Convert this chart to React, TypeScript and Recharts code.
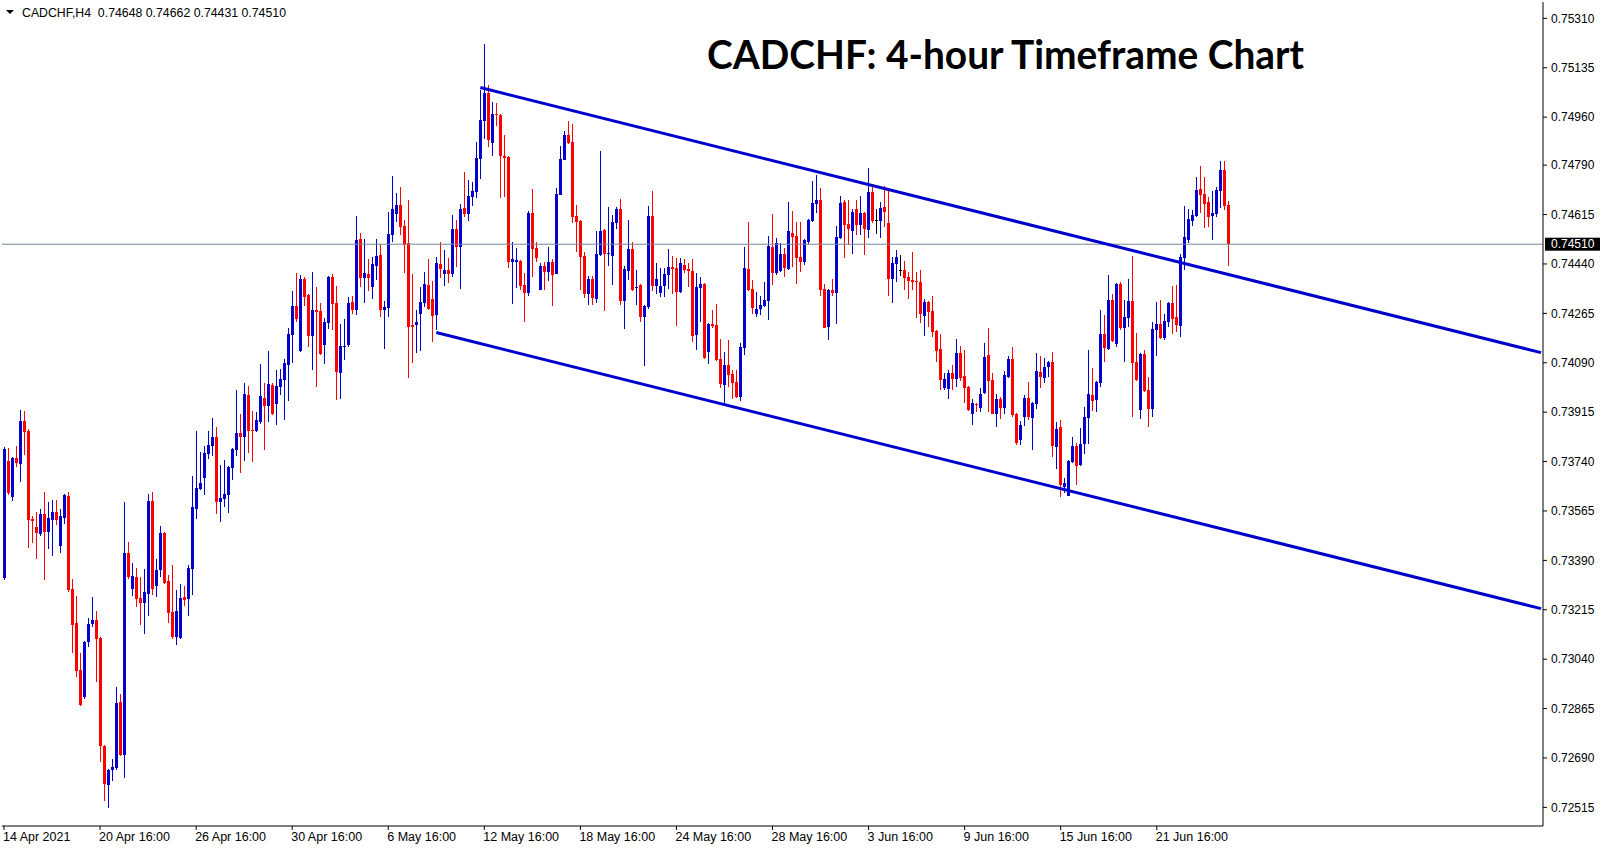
import React from 'react';
import { ComposedChart, Bar, Line, XAxis, YAxis, ReferenceLine } from 'recharts';

const opens = [
0.73329,0.73742,0.73616,0.73754,0.73733,0.73884,0.73850,0.73538,0.73508,0.73484,
0.73554,0.73492,0.73533,0.73561,0.73442,0.73541,0.73618,0.73289,0.73168,0.73002,
0.72907,0.73102,0.73165,0.73179,0.73116,0.72734,0.72596,0.72645,0.72656,0.72888,
0.72702,0.73416,0.73289,0.73331,0.73256,0.73240,0.73272,0.73600,0.73301,0.73356,
0.73487,0.73317,0.73208,0.73119,0.73116,0.73260,0.73254,0.73361,0.73573,0.73643,
0.73683,0.73768,0.73796,0.73827,0.73598,0.73609,0.73623,0.73718,0.73782,0.73841,
0.73828,0.73976,0.73852,0.73848,0.73880,0.73965,0.73936,0.74011,0.73943,0.74004,
0.74028,0.74081,0.74188,0.74290,0.74131,0.74386,0.74329,0.74184,0.74276,0.74273,
0.74152,0.74230,0.74393,0.74301,0.74053,0.74145,0.74152,0.74305,0.74276,0.74528,
0.74390,0.74404,0.74358,0.74432,0.74471,0.74276,0.74283,0.74542,0.74616,0.74648,
0.74574,0.74514,0.74223,0.74223,0.74262,0.74303,0.74366,0.74316,0.74261,0.74440,
0.74406,0.74419,0.74406,0.74564,0.74502,0.74639,0.74618,0.74679,0.74696,0.74813,
0.74948,0.75046,0.74870,0.74971,0.74968,0.74824,0.74819,0.74448,0.74446,0.74451,
0.74366,0.74337,0.74621,0.74496,0.74349,0.74433,0.74413,0.74447,0.74406,0.74686,
0.74810,0.74897,0.74872,0.74611,0.74592,0.74468,0.74332,0.74385,0.74317,0.74472,
0.74561,0.74476,0.74470,0.74587,0.74635,0.74309,0.74415,0.74493,0.74355,0.74366,
0.74252,0.74288,0.74610,0.74362,0.74337,0.74362,0.74401,0.74429,0.74426,0.74341,
0.74437,0.74422,0.74415,0.74189,0.74355,0.74369,0.74128,0.74228,0.74224,0.74104,
0.74011,0.74082,0.74050,0.74022,0.73969,0.74143,0.74422,0.74352,0.74263,0.74281,
0.74291,0.74309,0.74500,0.74408,0.74415,0.74476,0.74422,0.74550,0.74539,0.74465,
0.74447,0.74518,0.74592,0.74653,0.74667,0.74351,0.74217,0.74348,0.74338,0.74531,
0.74659,0.74581,0.74557,0.74634,0.74579,0.74620,0.74561,0.74694,0.74594,0.74593,
0.74641,0.74584,0.74386,0.74440,0.74418,0.74418,0.74393,0.74383,0.74379,0.74375,
0.74256,0.74306,0.74274,0.74203,0.74138,0.74001,0.73995,0.74053,0.74033,0.74124,
0.74042,0.74005,0.73907,0.73943,0.73930,0.73982,0.74117,0.74028,0.73909,0.73963,
0.73930,0.74041,0.74103,0.73908,0.73816,0.73898,0.73966,0.73895,0.73945,0.74056,
0.74037,0.74075,0.74094,0.73792,0.73864,0.73651,0.73619,0.73738,0.73795,0.73728,
0.73801,0.73892,0.73975,0.73958,0.74018,0.74193,0.74139,0.74312,0.74156,0.74369,
0.74213,0.74250,0.74309,0.74094,0.73923,0.74122,0.73993,0.73927,0.74204,0.74227,
0.74178,0.74233,0.74302,0.74252,0.74221,0.74461,0.74526,0.74593,0.74611,0.74705,
0.74688,0.74659,0.74611,0.74618,0.74698,0.74773,0.74648,
];

const highs = [
0.73793,0.73787,0.73757,0.73795,0.73923,0.73919,0.73855,0.73547,0.73561,0.73572,
0.73632,0.73597,0.73604,0.73604,0.73572,0.73625,0.73632,0.73324,0.73264,0.73062,
0.73106,0.73186,0.73260,0.73211,0.73120,0.72737,0.72652,0.72687,0.72942,0.72917,
0.73597,0.73455,0.73381,0.73363,0.73331,0.73360,0.73625,0.73632,0.73395,0.73512,
0.73491,0.73338,0.73374,0.73285,0.73306,0.73299,0.73374,0.73689,0.73848,0.73774,
0.73795,0.73848,0.73894,0.73863,0.73728,0.73746,0.73724,0.73788,0.73994,0.73909,
0.74018,0.74008,0.73919,0.73916,0.74085,0.74018,0.74131,0.74018,0.74064,0.74067,
0.74103,0.74213,0.74344,0.74407,0.74400,0.74393,0.74332,0.74411,0.74358,0.74301,
0.74248,0.74396,0.74404,0.74361,0.74227,0.74244,0.74322,0.74326,0.74609,0.74549,
0.74528,0.74457,0.74464,0.74528,0.74510,0.74308,0.74623,0.74751,0.74691,0.74712,
0.74595,0.74666,0.74404,0.74276,0.74358,0.74412,0.74458,0.74380,0.74464,0.74518,
0.74490,0.74461,0.74614,0.74596,0.74651,0.74766,0.74738,0.74731,0.74872,0.75056,
0.75219,0.75074,0.75014,0.75010,0.74971,0.74897,0.74822,0.74518,0.74497,0.74454,
0.74408,0.74628,0.74706,0.74518,0.74443,0.74447,0.74500,0.74458,0.74709,0.74858,
0.74911,0.74947,0.74936,0.74650,0.74595,0.74483,0.74399,0.74399,0.74557,0.74840,
0.74564,0.74642,0.74614,0.74642,0.74670,0.74433,0.74596,0.74518,0.74419,0.74369,
0.74294,0.74646,0.74699,0.74444,0.74426,0.74426,0.74493,0.74468,0.74461,0.74461,
0.74458,0.74444,0.74458,0.74408,0.74394,0.74372,0.74231,0.74277,0.74298,0.74174,
0.74128,0.74171,0.74065,0.74065,0.74160,0.74500,0.74589,0.74383,0.74341,0.74327,
0.74376,0.74539,0.74617,0.74532,0.74514,0.74497,0.74660,0.74628,0.74589,0.74589,
0.74528,0.74599,0.74734,0.74755,0.74709,0.74368,0.74351,0.74386,0.74574,0.74680,
0.74666,0.74666,0.74634,0.74666,0.74680,0.74623,0.74779,0.74723,0.74634,0.74659,
0.74715,0.74705,0.74464,0.74489,0.74471,0.74450,0.74411,0.74482,0.74411,0.74418,
0.74316,0.74309,0.74327,0.74206,0.74192,0.74052,0.74064,0.74081,0.74175,0.74150,
0.74136,0.74008,0.73962,0.73948,0.74001,0.74161,0.74214,0.74052,0.73979,0.73969,
0.74061,0.74115,0.74146,0.73911,0.73883,0.73975,0.74021,0.73950,0.74126,0.74114,
0.74106,0.74097,0.74129,0.73881,0.73887,0.73683,0.73745,0.73827,0.73805,0.73859,
0.73934,0.74135,0.74071,0.74025,0.74277,0.74259,0.74401,0.74334,0.74371,0.74376,
0.74312,0.74385,0.74468,0.74197,0.74125,0.74135,0.74041,0.74234,0.74304,0.74312,
0.74264,0.74306,0.74363,0.74367,0.74475,0.74645,0.74633,0.74632,0.74748,0.74788,
0.74748,0.74678,0.74700,0.74713,0.74803,0.74803,0.74662,
];

const lows = [
0.73321,0.73622,0.73602,0.73722,0.73669,0.73763,0.73435,0.73453,0.73396,0.73478,
0.73322,0.73432,0.73407,0.73517,0.73417,0.73520,0.73278,0.73063,0.72978,0.72875,
0.72900,0.73084,0.73152,0.72960,0.72677,0.72538,0.72513,0.72610,0.72648,0.72698,
0.72620,0.73325,0.73264,0.73226,0.73161,0.73129,0.73193,0.73267,0.73260,0.73331,
0.73306,0.73169,0.73112,0.73090,0.73112,0.73228,0.73193,0.73267,0.73537,0.73639,
0.73622,0.73749,0.73760,0.73556,0.73527,0.73580,0.73559,0.73676,0.73760,0.73701,
0.73740,0.73772,0.73739,0.73845,0.73872,0.73782,0.73880,0.73905,0.73869,0.73975,
0.73887,0.73954,0.74089,0.74234,0.74128,0.74290,0.74145,0.74064,0.74004,0.74117,
0.74085,0.74209,0.74205,0.73957,0.73961,0.74099,0.74146,0.74262,0.74259,0.74358,
0.74301,0.74344,0.74315,0.74383,0.74251,0.74138,0.74251,0.74517,0.74588,0.74542,
0.74407,0.74035,0.74089,0.74124,0.74131,0.74289,0.74278,0.74165,0.74206,0.74391,
0.74362,0.74374,0.74395,0.74430,0.74349,0.74607,0.74594,0.74647,0.74672,0.74742,
0.74884,0.74856,0.74824,0.74930,0.74672,0.74679,0.74424,0.74300,0.74356,0.74349,
0.74236,0.74328,0.74395,0.74448,0.74346,0.74347,0.74378,0.74293,0.74403,0.74683,
0.74807,0.74867,0.74587,0.74484,0.74346,0.74321,0.74296,0.74296,0.74303,0.74469,
0.74275,0.74434,0.74367,0.74565,0.74295,0.74210,0.74383,0.74345,0.74295,0.74235,
0.74079,0.74281,0.74344,0.74334,0.74323,0.74323,0.74352,0.74334,0.74220,0.74337,
0.74408,0.74359,0.74164,0.74135,0.74235,0.74104,0.74086,0.74213,0.74097,0.74001,
0.73944,0.74004,0.73962,0.73966,0.73955,0.74118,0.74345,0.74263,0.74252,0.74259,
0.74288,0.74242,0.74366,0.74401,0.74412,0.74394,0.74419,0.74429,0.74369,0.74412,
0.74437,0.74511,0.74589,0.74621,0.74327,0.74211,0.74171,0.74327,0.74228,0.74528,
0.74462,0.74508,0.74476,0.74543,0.74543,0.74469,0.74532,0.74586,0.74547,0.74532,
0.74571,0.74327,0.74302,0.74377,0.74397,0.74348,0.74316,0.74348,0.74249,0.74231,
0.74185,0.74217,0.74182,0.74093,0.73994,0.73991,0.73963,0.73991,0.74005,0.74026,
0.73949,0.73921,0.73870,0.73916,0.73916,0.73979,0.73917,0.73906,0.73863,0.73891,
0.73910,0.74038,0.73898,0.73797,0.73798,0.73864,0.73887,0.73779,0.73927,0.74002,
0.74019,0.74041,0.73757,0.73715,0.73616,0.73631,0.73616,0.73735,0.73657,0.73725,
0.73769,0.73802,0.73920,0.73914,0.74005,0.74093,0.74136,0.74164,0.74143,0.74207,
0.74093,0.74214,0.73899,0.74027,0.73892,0.73987,0.73864,0.73899,0.74114,0.74175,
0.74171,0.74218,0.74194,0.74200,0.74182,0.74420,0.74511,0.74574,0.74608,0.74622,
0.74568,0.74572,0.74526,0.74607,0.74635,0.74631,0.74431,
];

const closes = [
0.73785,0.73628,0.73754,0.73736,0.73884,0.73846,0.73533,0.73531,0.73485,0.73554,
0.73492,0.73540,0.73561,0.73533,0.73547,0.73622,0.73285,0.73161,0.72999,0.72879,
0.73102,0.73165,0.73179,0.73113,0.72734,0.72599,0.72648,0.72657,0.72886,0.72702,
0.73416,0.73331,0.73335,0.73254,0.73240,0.73278,0.73600,0.73290,0.73356,0.73487,
0.73311,0.73205,0.73119,0.73211,0.73257,0.73251,0.73363,0.73579,0.73646,0.73664,
0.73770,0.73799,0.73827,0.73598,0.73611,0.73625,0.73721,0.73785,0.73841,0.73828,
0.73979,0.73850,0.73850,0.73887,0.73972,0.73936,0.74014,0.73908,0.74007,0.74032,
0.74089,0.74191,0.74290,0.74244,0.74386,0.74322,0.74184,0.74276,0.74269,0.74120,
0.74234,0.74393,0.74298,0.74057,0.74149,0.74149,0.74301,0.74276,0.74524,0.74390,
0.74407,0.74390,0.74439,0.74468,0.74276,0.74287,0.74545,0.74634,0.74648,0.74570,
0.74506,0.74216,0.74216,0.74234,0.74305,0.74369,0.74281,0.74257,0.74444,0.74424,
0.74419,0.74406,0.74564,0.74502,0.74635,0.74618,0.74681,0.74699,0.74816,0.74950,
0.75046,0.74879,0.74971,0.74966,0.74824,0.74817,0.74448,0.74458,0.74454,0.74363,
0.74337,0.74621,0.74494,0.74461,0.74433,0.74413,0.74447,0.74402,0.74689,0.74812,
0.74897,0.74870,0.74608,0.74590,0.74466,0.74332,0.74385,0.74317,0.74476,0.74557,
0.74476,0.74479,0.74589,0.74635,0.74309,0.74422,0.74493,0.74348,0.74359,0.74252,
0.74291,0.74610,0.74362,0.74387,0.74362,0.74405,0.74429,0.74422,0.74341,0.74444,
0.74419,0.74415,0.74185,0.74359,0.74369,0.74107,0.74228,0.74220,0.74100,0.74015,
0.74082,0.74047,0.74019,0.73969,0.74146,0.74426,0.74348,0.74284,0.74281,0.74295,
0.74313,0.74504,0.74408,0.74514,0.74476,0.74426,0.74557,0.74536,0.74461,0.74447,
0.74525,0.74596,0.74656,0.74667,0.74348,0.74214,0.74348,0.74338,0.74535,0.74655,
0.74579,0.74564,0.74623,0.74579,0.74620,0.74564,0.74694,0.74593,0.74594,0.74638,
0.74625,0.74386,0.74443,0.74464,0.74418,0.74391,0.74380,0.74377,0.74377,0.74263,
0.74306,0.74270,0.74200,0.74132,0.74029,0.74034,0.74053,0.74033,0.74124,0.74035,
0.74001,0.73923,0.73946,0.73939,0.73980,0.74110,0.74026,0.73909,0.73963,0.73930,
0.74046,0.74103,0.73906,0.73804,0.73868,0.73966,0.73899,0.73947,0.74061,0.74037,
0.74075,0.74094,0.73795,0.73857,0.73657,0.73664,0.73742,0.73795,0.73725,0.73801,
0.73898,0.73978,0.73955,0.74022,0.74193,0.74143,0.74312,0.74167,0.74369,0.74213,
0.74252,0.74309,0.74090,0.74030,0.74122,0.73990,0.73927,0.74210,0.74227,0.74178,
0.74238,0.74302,0.74245,0.74224,0.74466,0.74537,0.74599,0.74613,0.74702,0.74684,
0.74653,0.74607,0.74620,0.74702,0.74773,0.74645,0.74510,
];

// total bar slots visible on the chart (candles + empty right shift)
const slotCount = 385;

const xTickIndex = [0, 24, 48, 72, 96, 120, 144, 168, 192, 216, 240, 264, 288];
const xTickLabels = [
  '14 Apr 2021', '20 Apr 16:00', '26 Apr 16:00', '30 Apr 16:00', '6 May 16:00',
  '12 May 16:00', '18 May 16:00', '24 May 16:00', '28 May 16:00', '3 Jun 16:00',
  '9 Jun 16:00', '15 Jun 16:00', '21 Jun 16:00',
];

const yTicks = [
  0.75310, 0.75135, 0.74960, 0.74790, 0.74615, 0.74440, 0.74265, 0.74090, 0.73915,
  0.73740, 0.73565, 0.73390, 0.73215, 0.73040, 0.72865, 0.72690, 0.72515,
];
const yDomain = [0.72449, 0.75368];

const upperIdx = [119, 384];
const upperPrice = [0.75065, 0.74126];
const lowerIdx = [108, 384];
const lowerPrice = [0.74197, 0.73219];

const lastPrice = 0.7451;
const headerText = 'CADCHF,H4  0.74648 0.74662 0.74431 0.74510';
const titleText = 'CADCHF: 4-hour Timeframe Chart';

const BLUE = '#0000CD';
const RED = '#FF0000';
const FONT = '"Liberation Sans", Arial, sans-serif';

const data = Array.from({ length: slotCount }, (_, i) => {
  const row: any = { i };
  if (i < opens.length) {
    row.o = opens[i];
    row.h = highs[i];
    row.l = lows[i];
    row.c = closes[i];
    row.range = [lows[i], highs[i]];
  }
  const u = upperIdx.indexOf(i);
  if (u >= 0) row.upper = upperPrice[u];
  const d = lowerIdx.indexOf(i);
  if (d >= 0) row.lower = lowerPrice[d];
  return row;
});

const Candle = (props: any) => {
  const { x, y, width, height, payload } = props;
  if (!payload || payload.h == null || x == null || y == null) return null;
  let top = y;
  let hgt = height;
  if (hgt < 0) {
    top = y + hgt;
    hgt = -hgt;
  }
  const { o, h, l, c } = payload;
  const span = h - l;
  const k = span > 0 ? hgt / span : 0;
  const yO = top + (h - o) * k;
  const yC = top + (h - c) * k;
  const color = c > o ? BLUE : c < o ? RED : '#000000';
  const cx = Math.floor(x + width / 2);
  const bTop = Math.round(Math.min(yO, yC));
  const bH = Math.max(1, Math.round(Math.abs(yC - yO)));
  return (
    <g shapeRendering="crispEdges">
      <rect x={cx} y={Math.round(top)} width={1} height={Math.max(1, Math.round(hgt))} fill={color} />
      <rect x={cx - 1} y={bTop} width={3} height={bH} fill={color} />
    </g>
  );
};

const XTick = (props: any) => {
  const { x, y, payload } = props;
  const idx = xTickIndex.indexOf(payload.value);
  if (idx < 0) return null;
  return (
    <text x={x - 1} y={y} dy="0.71em" textAnchor="start" fontFamily={FONT} fontSize={12.5} fill="#000">
      {xTickLabels[idx]}
    </text>
  );
};

const PriceTag = (props: any) => {
  const vb = props.viewBox || {};
  const right = (vb.x || 0) + (vb.width || 0);
  const yy = vb.y || 0;
  return (
    <g>
      <rect x={right + 2} y={yy - 6.5} width={55} height={13} fill="#000" />
      <text x={right + 8} y={yy} dy="0.355em" fontFamily={FONT} fontSize={12} fill="#fff">
        {lastPrice.toFixed(5)}
      </text>
    </g>
  );
};

export default function App() {
  return (
    <div style={{ position: 'absolute', left: 0, top: 0, width: 1607, height: 850, background: '#fff' }}>
      <ComposedChart
        width={1607}
        height={850}
        data={data}
        margin={{ top: 2, right: 0, bottom: 0, left: 2 }}
        barCategoryGap={0}
        barGap={0}
      >
        <XAxis
          dataKey="i"
          type="category"
          ticks={xTickIndex}
          interval={0}
          height={24}
          tickSize={4}
          tickMargin={2}
          axisLine={{ stroke: '#000', strokeWidth: 1 }}
          tickLine={{ stroke: '#000' }}
          tick={<XTick />}
        />
        <XAxis xAxisId="top" dataKey="i" orientation="top" height={0} tick={false} tickLine={false} axisLine={{ stroke: '#000' }} />
        <YAxis
          orientation="right"
          type="number"
          domain={yDomain}
          allowDataOverflow
          ticks={yTicks}
          interval={0}
          width={64}
          tickSize={4}
          tickMargin={4}
          axisLine={{ stroke: '#000', strokeWidth: 1 }}
          tickLine={{ stroke: '#000' }}
          tickFormatter={(v: number) => v.toFixed(5)}
          tick={{ fontFamily: FONT, fontSize: 12, fill: '#000' }}
        />
        <YAxis yAxisId="left" orientation="left" width={0} domain={yDomain} allowDataOverflow tick={false} tickLine={false} axisLine={{ stroke: '#000' }} />
        <ReferenceLine y={lastPrice} stroke="#778899" strokeWidth={1} label={<PriceTag />} />
        <Bar dataKey="range" shape={<Candle />} isAnimationActive={false} />
        <Line dataKey="upper" connectNulls dot={false} activeDot={false} stroke={BLUE} strokeWidth={3} isAnimationActive={false} />
        <Line dataKey="lower" connectNulls dot={false} activeDot={false} stroke={BLUE} strokeWidth={3} isAnimationActive={false} />
      </ComposedChart>
      <svg width={1607} height={850} style={{ position: 'absolute', left: 0, top: 0, pointerEvents: 'none' }}>
        <polygon points="6,10 14,10 10,14" fill="#000" />
        <text x={22} y={17} fontFamily={FONT} fontSize={12} fill="#000" textLength={264} lengthAdjust="spacingAndGlyphs" style={{ whiteSpace: 'pre' }}>
          {headerText}
        </text>
        <text
          x={707}
          y={69}
          fontFamily="Lato, 'Open Sans', sans-serif"
          fontWeight="bold"
          fontSize={40}
          textLength={597}
          lengthAdjust="spacingAndGlyphs"
          fill="#000"
        >
          {titleText}
        </text>
      </svg>
    </div>
  );
}
